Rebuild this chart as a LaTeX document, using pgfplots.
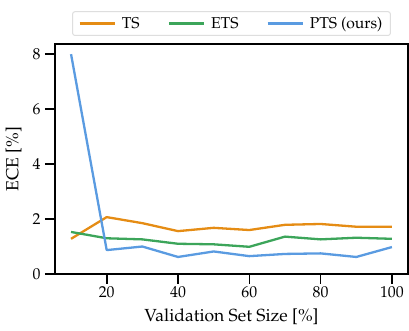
\documentclass[border=0pt]{standalone}
\usepackage[T1]{fontenc}
\usepackage{mathpazo}
\usepackage{pgfplots}
\pgfplotsset{compat=1.18}
\definecolor{tsc}{RGB}{229,140,20}
\definecolor{etsc}{RGB}{60,165,90}
\definecolor{ptsc}{RGB}{90,155,225}
\begin{document}
\begin{tikzpicture}
\begin{axis}[
  scale only axis,
  width=353pt, height=230pt,
  xmin=5.5, xmax=104.5, ymin=0, ymax=8.37,
  xtick={20,40,60,80,100}, ytick={0,2,4,6,8},
  separate axis lines,
  axis line style={line width=1.7pt, line cap=rect, black},
  every tick/.style={line width=1.6pt, black},
  major tick length=10pt,
  tick align=outside,
  xtick pos=bottom, ytick pos=left,
  ticklabel style={font=\fontsize{15.8}{18}\selectfont},
  yticklabel style={xshift=-1pt},
  xticklabel style={yshift=1pt},
  xlabel={Validation Set Size [\%]},
  ylabel={ECE [\%]},
  label style={font=\fontsize{17.5}{20}\selectfont},
  xlabel style={yshift=-4pt},
  ylabel style={yshift=4pt},
  legend columns=3,
  legend style={at={(0.5,1)}, anchor=south, yshift=8pt, draw=black!13, line width=1pt, rounded corners=2.5pt,
    font=\fontsize{15.7}{18}\selectfont,
    /tikz/every odd column/.append style={column sep=4pt},
    /tikz/every even column/.append style={column sep=26pt},
    inner xsep=6pt, inner ysep=3.5pt},
  legend image code/.code={\draw[#1] (0pt,0pt) -- (35pt,0pt);},
  legend image post style={line width=2.3pt},
  every axis plot/.append style={line width=2.3pt, line join=round},
]
\addplot[tsc] coordinates {(10,1.28)(20,2.07)(30,1.85)(40,1.56)(50,1.68)(60,1.60)(70,1.79)(80,1.82)(90,1.72)(100,1.72)};
\addlegendentry{TS}
\addplot[etsc] coordinates {(10,1.53)(20,1.30)(30,1.26)(40,1.10)(50,1.08)(60,0.99)(70,1.36)(80,1.26)(90,1.32)(100,1.28)};
\addlegendentry{ETS}
\addplot[ptsc] coordinates {(10,8.0)(20,0.87)(30,1.00)(40,0.62)(50,0.82)(60,0.65)(70,0.73)(80,0.75)(90,0.62)(100,0.98)};
\addlegendentry{PTS (ours)}
\end{axis}
\path (current axis.south west) ++(-55pt,-57pt) rectangle ++(409pt,331pt);
\end{tikzpicture}
\end{document}
